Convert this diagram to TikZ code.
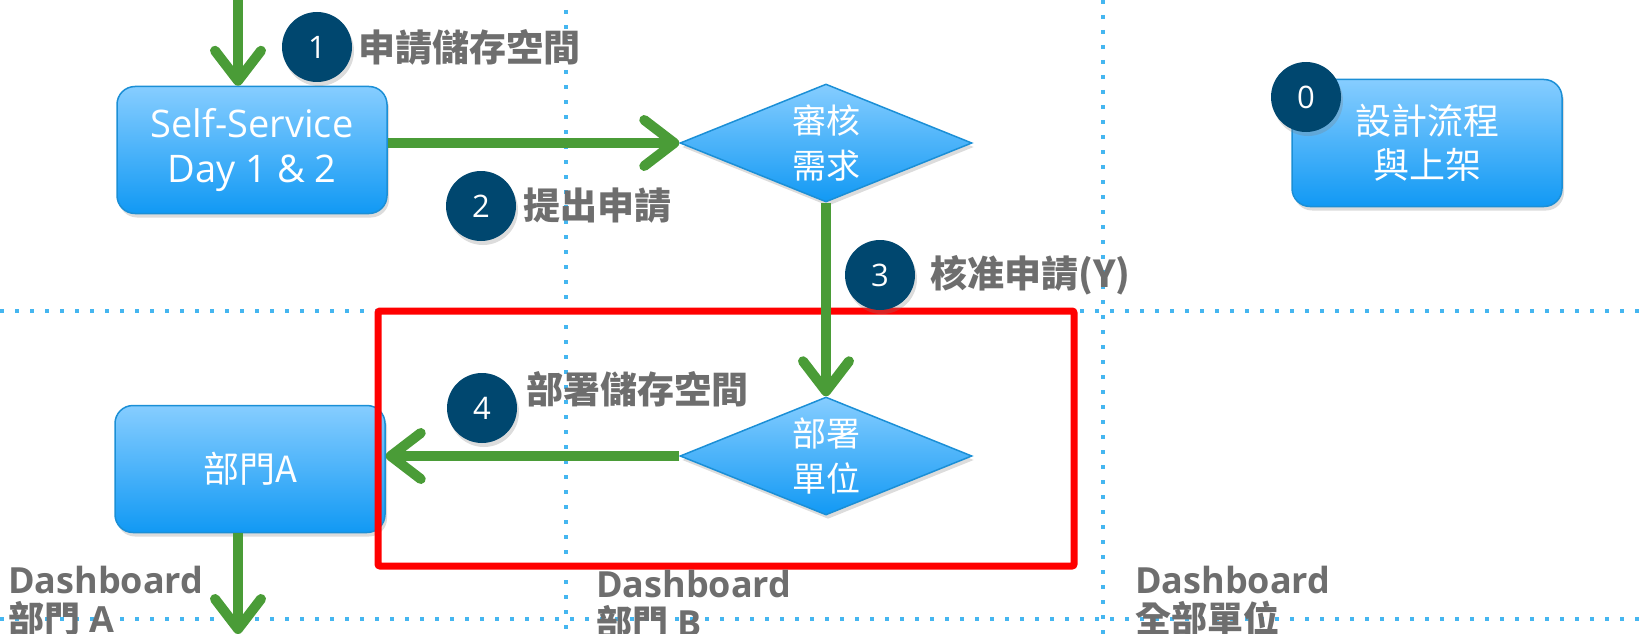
\documentclass[tikz,border=0pt]{standalone}
\usepackage{fontspec}
\setmainfont{Open Sans}
\newfontfamily\cjk{Noto Sans CJK TC}
\usetikzlibrary{arrows.meta,shapes.geometric,shadows}
\definecolor{flowgreen}{HTML}{4A9C37}
\definecolor{navyc}{HTML}{00476F}
\definecolor{labgray}{HTML}{6E6E6E}
\definecolor{boxtop}{HTML}{86CDFF}
\definecolor{boxbot}{HTML}{1199F4}
\definecolor{boxline}{HTML}{1B8FD6}
\definecolor{dotblue}{HTML}{45B6F0}
\definecolor{redc}{HTML}{FF0000}
\tikzset{
  softshadow/.style={drop shadow={opacity=0.28, shadow xshift=2pt, shadow yshift=-4pt}},
  procbox/.style={rounded corners=18pt, draw=boxline, line width=1.5pt, top color=boxtop, bottom color=boxbot, minimum width=270pt, minimum height=127pt, inner sep=0pt, text=white, align=center, softshadow},
  decide/.style={diamond, draw=boxline, line width=1.5pt, top color=boxtop, bottom color=boxbot, minimum width=292pt, minimum height=118pt, inner sep=0pt, aspect=2.5, text=white, align=center, font=\cjk\fontsize{34}{45}\selectfont, softshadow},
  stepnum/.style={circle, fill=navyc, minimum size=70pt, inner sep=0pt, text=white, font=\fontsize{31}{34}\selectfont, softshadow},
  steplab/.style={anchor=west, inner sep=0pt, text=labgray, font=\cjk\bfseries\fontsize{37}{40}\selectfont},
  dashlab/.style={anchor=base west, inner sep=0pt, text=labgray, align=left, font=\bfseries\fontsize{36}{39}\selectfont},
  flow/.style={draw=flowgreen, line width=10pt, -{Straight Barb[length=30pt, width=46pt, round]}},
  lane/.style={draw=dotblue, line width=4pt, dash pattern=on 4pt off 11pt},
}
\begin{document}
\begin{tikzpicture}[x=1pt,y=-1pt]
\useasboundingbox (0,0) rectangle (1639,634);
% swim lanes
\draw[lane] (0,311) -- (1639,311);
\draw[lane] (0,619) -- (1639,619);
\draw[lane] (566,10) -- (566,634);
\draw[lane] (1103,0) -- (1103,634);
% nodes
\node[procbox, font=\fontsize{38}{45}\selectfont] (ss) at (252,150) {Self-Service\\Day 1 \& 2};
\node[decide] (d1) at (826,143) {審核\\需求};
\node[decide] (d2) at (826,456) {部署\\單位};
\node[procbox, font=\cjk\fontsize{36}{44}\selectfont] (dA) at (250,469) {部門A};
\node[procbox, font=\cjk\fontsize{36}{44}\selectfont] (d0) at (1427,143) {設計流程\\與上架};
% highlight
\draw[redc, line width=7pt, rounded corners=2pt] (378,311) rectangle (1074,566);
% flows
\coordinate (topin) at (238,-20);
\coordinate (botout) at (238,634);
\draw[flow] (topin) -- (topin |- ss.north);
\draw[flow] (ss.east |- d1.west) -- (d1.west);
\draw[flow] (d1.south) -- (d2.north);
\draw[flow] (d2.west) -- (dA.east |- d2.west);
\draw[flow] (dA.south -| botout) -- (botout);
% step numbers
\node[stepnum] (c1) at (317,47) {1};
\node[stepnum] (c2) at (481,206) {2};
\node[stepnum] (c3) at (880,275) {3};
\node[stepnum] (c4) at (482,408) {4};
\node[stepnum] (c0) at (1306,97) {0};
% step labels
\node[steplab] (l1) at (358,47) {申請儲存空間};
\node[steplab] (l2) at (523,206) {提出申請};
\node[steplab] (l3) at (930,275) {核准申請(Y)};
\node[steplab] (l4) at (526,389) {部署儲存空間};
% dashboard labels
\node[dashlab] (dbA) at (8,632) {Dashboard\\{\cjk 部門} A};
\node[dashlab] (dbB) at (596,636) {Dashboard\\{\cjk 部門} B};
\node[dashlab] (dbC) at (1135,632) {Dashboard\\{\cjk 全部單位}};
\end{tikzpicture}
\end{document}
